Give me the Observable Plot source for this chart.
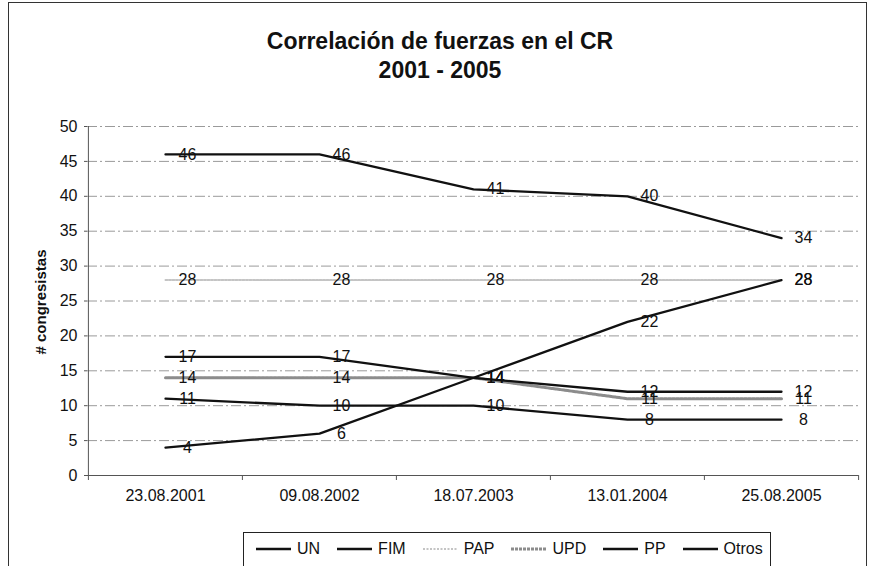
<!DOCTYPE html>
<html><head><meta charset="utf-8">
<script src="https://cdn.jsdelivr.net/npm/d3@7"></script>
<script src="https://cdn.jsdelivr.net/npm/@observablehq/plot@0.6"></script>
<style>
body{margin:0;background:#fff;font-family:"Liberation Sans",Arial,sans-serif;color:#111;}
#wrap{position:relative;width:869px;height:566px;overflow:hidden;background:#fff;}
#frame{position:absolute;left:8px;top:2px;width:859px;height:640px;border:1px solid #333;box-sizing:border-box;}
#title{position:absolute;left:0;width:880px;top:27px;text-align:center;font-weight:bold;font-size:23px;line-height:29px;}
#chart{position:absolute;left:0;top:0;}
#ylabel{position:absolute;left:40px;top:302px;transform:translate(-50%,-50%) rotate(-90deg);font-weight:bold;font-size:15px;white-space:nowrap;}
#legend{position:absolute;left:243px;top:532px;width:528px;height:60px;border:1px solid #222;box-sizing:border-box;display:flex;align-items:flex-start;padding:7px 0 0 12px;font-size:16px;background:#fff;}
.item{display:flex;align-items:center;margin-right:17px;}
.item svg{margin-right:6px;}
</style>
</head><body>
<div id="wrap">
  <div id="frame"></div>
  <div id="title">Correlación de fuerzas en el CR<br>2001 - 2005</div>
  <div id="chart"></div>
  <div id="ylabel"># congresistas</div>
  <div id="legend"></div>
</div>
<script>
// ---- data ----
const fechas = ["23.08.2001", "09.08.2002", "18.07.2003", "13.01.2004", "25.08.2005"];
const series = ["UN", "FIM", "PAP", "UPD", "PP", "Otros"];
const UN    = [17, 17, 14, 12, 12];
const FIM   = [11, 10, 10, 8, 8];
const PAP   = [28, 28, 28, 28, 28];
const UPD   = [14, 14, 14, 11, 11];
const PP    = [46, 46, 41, 40, 34];
const Otros = [4, 6, 14, 22, 28];
const yTicks = [0, 5, 10, 15, 20, 25, 30, 35, 40, 45, 50];

const valores = {UN, FIM, PAP, UPD, PP, Otros};
const rows = series.flatMap(s => fechas.map((f, i) => ({serie: s, fecha: f, valor: valores[s][i]})));

const estilos = {
  UN:    {stroke: "#111", width: 2.3, dash: null},
  FIM:   {stroke: "#111", width: 2.3, dash: null},
  PAP:   {stroke: "#c4c4c4", width: 2, dash: "2,1.5"},
  UPD:   {stroke: "#8c8c8c", width: 3, dash: "3,1"},
  PP:    {stroke: "#111", width: 2.3, dash: null},
  Otros: {stroke: "#111", width: 2.3, dash: null}
};

// ---- layout ----
const W = 869, H = 520, mL = 87, mR = 11, mT = 126, mB = 45;
const halfStep = (W - mL - mR) / fechas.length / 2;

const orden = ["PAP", "UPD", "UN", "FIM", "PP", "Otros"];
const lineMarks = orden.map(s => Plot.line(rows.filter(r => r.serie === s), {
  x: "fecha", y: "valor",
  stroke: estilos[s].stroke, strokeWidth: estilos[s].width,
  strokeDasharray: estilos[s].dash || undefined
}));

const chart = Plot.plot({
  width: W, height: H,
  marginLeft: mL, marginRight: mR, marginTop: mT, marginBottom: mB,
  style: {fontFamily: "'Liberation Sans', Arial, sans-serif", background: "transparent", color: "#111"},
  x: {type: "point", domain: fechas, padding: 0.5, label: null},
  y: {domain: [0, 50], label: null},
  marks: [
    Plot.ruleY(yTicks.filter(v => v > 0), {stroke: "#9a9a9a", strokeWidth: 1, strokeDasharray: "10,3,2,3"}),
    Plot.ruleY([0], {stroke: "#555", strokeWidth: 1}),
    Plot.ruleX([fechas[0]], {y1: 0, y2: 50, dx: -halfStep, stroke: "#555", strokeWidth: 1}),
    Plot.axisY({ticks: yTicks, tickSize: 3, tickPadding: 7, fontSize: 16, label: null, stroke: "#555"}),
    Plot.axisX({tickSize: 0, tickPadding: 14, fontSize: 16, label: null}),
    Plot.axisX({ticks: fechas, tickSize: 5, tickFormat: () => "", dx: -halfStep, stroke: "#555", label: null}),
    Plot.axisX({ticks: [fechas[fechas.length - 1]], tickSize: 5, tickFormat: () => "", dx: halfStep, stroke: "#555", label: null}),
    ...lineMarks,
    Plot.text(rows, {x: "fecha", y: "valor", text: d => String(d.valor), dx: 22, fontSize: 16, fill: "#111"})
  ]
});
document.getElementById("chart").appendChild(chart);

// ---- legend ----
const legend = d3.select("#legend");
series.forEach(s => {
  const it = legend.append("div").attr("class", "item");
  const svg = it.append("svg").attr("width", 35).attr("height", 12);
  svg.append("line").attr("x1", 0).attr("x2", 35).attr("y1", 6).attr("y2", 6)
    .attr("stroke", estilos[s].stroke).attr("stroke-width", estilos[s].width)
    .attr("stroke-dasharray", estilos[s].dash);
  it.append("span").text(s);
});
</script>
</body></html>
